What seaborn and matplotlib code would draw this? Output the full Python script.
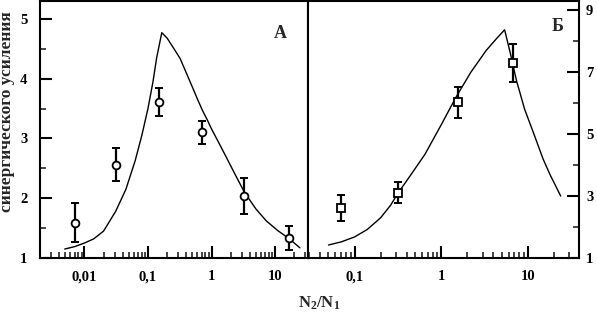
import numpy as np
import pandas as pd
import matplotlib
matplotlib.use("Agg")
import matplotlib.pyplot as plt
import seaborn as sns
from matplotlib.ticker import FixedLocator, FixedFormatter, LogLocator, NullFormatter, MultipleLocator

# panel A: model curve and measured points
curve_a_x = [0.0049, 0.007, 0.01, 0.014, 0.02, 0.031, 0.045, 0.063, 0.08, 0.1,
             0.12, 0.137, 0.165, 0.2, 0.25, 0.32, 0.4, 0.5, 0.6, 0.72, 0.85,
             1.0, 1.3, 1.72, 2.4, 3.3, 5.0, 7.3, 11.0, 16.8, 24.6]
curve_a_y = [1.15, 1.19, 1.25, 1.32, 1.45, 1.78, 2.15, 2.63, 3.05, 3.5,
             3.95, 4.35, 4.77, 4.68, 4.52, 4.34, 4.1, 3.86, 3.66, 3.47, 3.32,
             3.16, 2.93, 2.68, 2.38, 2.1, 1.82, 1.62, 1.46, 1.32, 1.17]
pts_a_x = [0.0072, 0.031, 0.148, 0.71, 3.3, 16.6]
pts_a_y = [1.59, 2.56, 3.61, 3.1, 2.04, 1.34]
pts_a_err = [0.33, 0.28, 0.24, 0.2, 0.3, 0.2]

# panel B
curve_b_x = [0.05, 0.07, 0.1, 0.14, 0.2, 0.26, 0.32, 0.45, 0.65, 1.0, 1.48,
             2.2, 3.3, 4.4, 5.4, 6.3, 7.4, 9.2, 11.6, 15, 18, 24]
curve_b_y = [1.42, 1.52, 1.68, 1.92, 2.3, 2.7, 3.11, 3.7, 4.35, 5.3, 6.19,
             7.0, 7.7, 8.1, 8.37, 7.6, 6.73, 5.8, 5.05, 4.2, 3.7, 3.0]
pts_b_x = [0.07, 0.32, 1.55, 6.8]
pts_b_y = [2.63, 3.11, 6.03, 7.3]
pts_b_err = [0.42, 0.33, 0.5, 0.6]

xtick_vals = [0.01, 0.1, 1, 10]
xtick_labels = ["0,01", "0,1", "1", "10"]
ytick_b = [1, 3, 5, 7, 9]

sns.set_style("ticks")
plt.rcParams['font.family'] = ['Liberation Serif', 'DejaVu Serif']
plt.rcParams['font.weight'] = 'bold'
plt.rcParams['mathtext.fontset'] = 'custom'
plt.rcParams['mathtext.rm'] = 'Liberation Serif:bold'
plt.rcParams['mathtext.it'] = 'Liberation Serif:bold'
plt.rcParams['mathtext.bf'] = 'Liberation Serif:bold'

W, H = 597, 315
fig = plt.figure(figsize=(W / 100, H / 100), dpi=100)
bot = 1 - 258 / H
hgt = 257 / H
axA = fig.add_axes([40 / W, bot, (308 - 40) / W, hgt])
axB = fig.add_axes([308 / W, bot, (579 - 308) / W, hgt])


def style(ax, xlim, ylim):
    ax.set_xscale('log')
    ax.set_xlim(*xlim)
    ax.set_ylim(*ylim)
    ax.xaxis.set_major_locator(FixedLocator(xtick_vals))
    ax.xaxis.set_major_formatter(FixedFormatter(xtick_labels))
    ax.xaxis.set_minor_locator(LogLocator(base=10, subs=np.arange(2, 10), numticks=20))
    ax.xaxis.set_minor_formatter(NullFormatter())
    for s in ax.spines.values():
        s.set_visible(True)
        s.set_linewidth(1.5)
        s.set_color('black')
    ax.tick_params(which='major', direction='in', length=8.5, width=1.5,
                   labelsize=10.5, pad=9, colors='black')
    ax.tick_params(which='minor', direction='in', length=4.5, width=1.2)
    ax.set_xlabel('')
    ax.set_ylabel('')


def draw(ax, cx, cy, px, py, pe, marker, ms):
    df = pd.DataFrame({'x': cx, 'y': cy})
    sns.lineplot(data=df, x='x', y='y', ax=ax, sort=False, color='black', lw=1.0)
    ax.errorbar(px, py, yerr=pe, fmt='none', ecolor='black', elinewidth=1.6,
                capsize=2.6, capthick=1.4, zorder=3)
    ax.plot(px, py, ls='none', marker=marker, ms=ms, mfc='white', mec='black',
            mew=1.3, zorder=4)


draw(axA, curve_a_x, curve_a_y, pts_a_x, pts_a_y, pts_a_err, 'o', 5.6)
style(axA, (0.002, 33), (1, 5.3))
axA.yaxis.set_major_locator(MultipleLocator(1))
axA.yaxis.set_minor_locator(MultipleLocator(0.5))
axA.tick_params(axis='y', which='both', left=True, right=False)
axA.tick_params(axis='x', which='both', bottom=True, top=False)
axA.text(0.895, 0.875, 'А', transform=axA.transAxes, fontsize=13,
         fontweight='bold', ha='center', va='center')

draw(axB, curve_b_x, curve_b_y, pts_b_x, pts_b_y, pts_b_err, 's', 5.8)
style(axB, (0.029, 39), (1, 9.3))
axB.yaxis.set_major_locator(FixedLocator(ytick_b))
axB.yaxis.set_minor_locator(MultipleLocator(1))
axB.yaxis.tick_right()
axB.tick_params(axis='y', which='both', left=False, right=True, labelleft=False,
                labelright=True)
axB.tick_params(axis='y', which='major', pad=5)
axB.tick_params(axis='x', which='both', bottom=True, top=False)
axB.text(0.92, 0.9, 'Б', transform=axB.transAxes, fontsize=13,
         fontweight='bold', ha='center', va='center')

fig.text(0.012, 1 - 112 / H, 'синергического усиления', rotation=90,
         fontsize=12.5, fontweight='bold', ha='center', va='center')
fig.text(319 / W, 1 - 303 / H, r'N$_2$/N$_1$', fontsize=12,
         fontweight='bold', ha='center', va='center')

fig.savefig('out.png', dpi=100)
